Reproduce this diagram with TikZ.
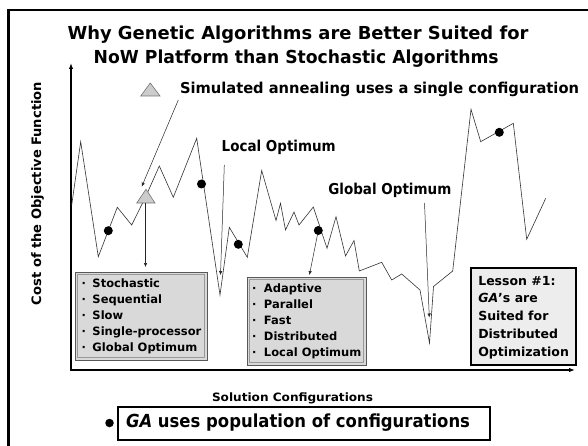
\documentclass[tikz,border=0pt]{standalone}
\usepackage{fontspec}
\setmainfont{DejaVu Sans}
\usetikzlibrary{arrows.meta}
\newcommand{\fitw}[2]{\resizebox{#1}{\height}{#2}}
\newcommand{\fsz}[1]{\fontsize{#1}{#1}\selectfont}
\begin{document}
\begin{tikzpicture}[x=1pt,y=-1pt,
  every node/.style={inner sep=0pt, outer sep=0pt, font=\bfseries},
  curveline/.style={black!80, line width=0.6pt, line join=miter, miter limit=30},
  dotn/.style={circle, fill=black, minimum size=9pt},
  ptr/.style={black!85, line width=0.5pt, -{Latex[length=4pt,width=3.5pt]}},
  axisline/.style={black, line width=1.6pt, {Latex[length=6pt,width=4.5pt]}-{Latex[length=6pt,width=4.5pt]}},
  graybox/.style={fill=black!15, draw=black!65, line width=1pt, anchor=north west},
  lessonbox/.style={fill=black!7, draw=black, line width=2.5pt, anchor=north west},
  gabox/.style={fill=white, draw=black, line width=1.8pt, anchor=north west},
  tri/.style={fill=black!20, draw=black!55, line width=0.6pt, line join=miter},
  item/.style={anchor=base west, font=\bfseries\fsz{11.5}},
  lesson/.style={anchor=base west, font=\bfseries\fsz{12.5}},
  lbl/.style={anchor=base west}
]
\useasboundingbox (0,0) rectangle (588,446);
\clip (0,0) rectangle (588,446);
\fill[white] (0,0) rectangle (588,446);
% frame
\draw[line width=2.5pt, line join=miter] (8.3,470) -- (8.3,10) -- (620,10);

% title
\node[lbl] (title1) at (67.5,39.3) {\fitw{461pt}{\fsz{17.9}Why Genetic Algorithms are Better Suited for}};
\node[lbl] (title2) at (93.7,63.5) {\fitw{405pt}{\fsz{17.9}NoW Platform than Stochastic Algorithms}};

% axes
\coordinate (O) at (71,370);
\coordinate (Ytip) at (71,63);
\coordinate (Xtip) at (575,370);
\draw[axisline, line join=miter] (Ytip) -- (O) -- (Xtip);

\node[rotate=90] (ylab) at (37.5,193.5) {\fitw{223pt}{\fsz{13}Cost of the Objective Function}};
\node[lbl] (xlab) at (212,401) {\fitw{161pt}{\fsz{11.5}Solution Configurations}};

% curve
\draw[curveline] (71.7,205) -- (80.7,141.7) -- (98.3,256.7) -- (117.3,207.3) -- (131.7,225)
  -- (146,196) -- (159.3,166) -- (173.3,197.3) -- (196.7,138.3) -- (220,295)
  -- (229.3,227.3) -- (247.3,257.3) -- (261.7,170.5) -- (276,220.5) -- (280.5,203.3)
  -- (285.5,230) -- (294,212) -- (299,225) -- (313.3,207) -- (327,248.3)
  -- (336,216.7) -- (345.5,256) -- (354,240.5) -- (359.3,271) -- (381.7,262.3)
  -- (391.7,280) -- (401.7,274) -- (420,290) -- (429.5,343) -- (433.5,286.5)
  -- (452.7,271) -- (471,109.3) -- (480.7,141.7) -- (513.3,123.3) -- (526.7,239.3)
  -- (545.7,198.3);

% dots
\node[dotn] (d1) at (108.3,230.7) {};
\node[dotn] (d2) at (201.5,184) {};
\node[dotn] (d3) at (238.3,244.3) {};
\node[dotn] (d4) at (318.3,230.5) {};
\node[dotn] (d5) at (499.3,132.3) {};

% legend triangle and text
\draw[tri] (140.7,96) -- (160,96) -- (150.3,83) -- cycle;
\node[lbl] (satext) at (180,94) {\fitw{399pt}{\fsz{15}Simulated annealing uses a single configuration}};

% triangle on the curve
\draw[tri] (136.7,203) -- (155,203) -- (146,189.3) -- cycle;
\coordinate (triB) at (145.5,203.5);
\coordinate (saFrom) at (178.3,100);
\coordinate (saTip) at (141.7,186.7);

% labels
\node[lbl] (local) at (221.7,151.7) {\fitw{114pt}{\fsz{15}Local Optimum}};
\node[lbl] (global) at (328.3,194.5) {\fitw{123pt}{\fsz{15}Global Optimum}};
\coordinate (locFrom) at (224.3,165);
\coordinate (locTip) at (220.5,275);
\coordinate (gloFrom) at (424.5,203);
\coordinate (gloTip) at (429.3,317.5);

% boxes
\node[graybox, minimum width=132pt, minimum height=88pt] (b1) at (75,272) {};
\draw[black!40, line width=0.6pt] ([shift={(2.3pt,-2.3pt)}]b1.north west) rectangle ([shift={(-2.3pt,2.3pt)}]b1.south east);
\node[graybox, minimum width=119pt, minimum height=88pt] (b2) at (247,277) {};
\draw[black!40, line width=0.6pt] ([shift={(2.3pt,-2.3pt)}]b2.north west) rectangle ([shift={(-2.3pt,2.3pt)}]b2.south east);
\node[lessonbox, minimum width=105pt, minimum height=97pt] (b3) at (471,268) {};
\node[gabox, minimum width=372pt, minimum height=33pt] (b4) at (118,407) {};

% box 1 text
\node[item] (i11) at (81.5,287.8) {\makebox[11pt][l]{·}Stochastic};
\node[item] (i12) at (81.5,303.7) {\makebox[11pt][l]{·}Sequential};
\node[item] (i13) at (81.5,319.6) {\makebox[11pt][l]{·}Slow};
\node[item] (i14) at (81.5,335.5) {\makebox[11pt][l]{·}Single-processor};
\node[item] (i15) at (81.5,351.4) {\makebox[11pt][l]{·}Global Optimum};

% box 2 text
\node[item] (i21) at (252,292.8) {\makebox[12pt][l]{·}Adaptive};
\node[item] (i22) at (252,308.8) {\makebox[12pt][l]{·}Parallel};
\node[item] (i23) at (252,324.8) {\makebox[12pt][l]{·}Fast};
\node[item] (i24) at (252,340.8) {\makebox[12pt][l]{·}Distributed};
\node[item] (i25) at (252,356.8) {\makebox[12pt][l]{·}Local Optimum};

% lesson text
\node[lesson] (l1) at (478.3,285) {Lesson \#1:};
\node[lesson] (l2) at (478.3,302.9) {\textit{GA}’s are};
\node[lesson] (l3) at (478.3,320.8) {Suited for};
\node[lesson] (l4) at (478.3,338.7) {Distributed};
\node[lesson] (l5) at (478.3,356.6) {Optimization};

% GA box text
\node[dotn, minimum size=8.5pt] (bul) at (109.5,423) {};
\node[lbl] (gatext) at (126,427) {\fitw{344pt}{\fsz{18}\textit{GA} uses population of configurations}};

% pointers
\draw[ptr] (saFrom) -- (saTip);
\draw[ptr, shorten >=5pt] (triB) -- (triB |- b1.north);
\draw[ptr] (locFrom) -- (locTip);
\draw[ptr] (gloFrom) -- (gloTip);
\draw[ptr, shorten >=2pt] (d4) -- ([xshift=62pt]b2.north west);
\end{tikzpicture}
\end{document}
